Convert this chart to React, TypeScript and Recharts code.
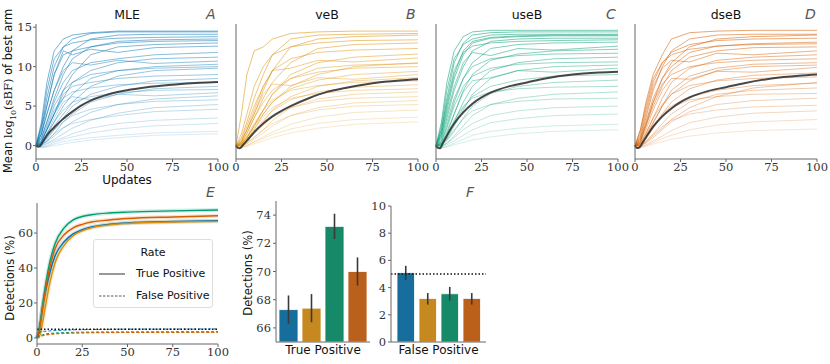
import React from 'react';
import { LineChart, Line, XAxis, YAxis, BarChart, Bar, ErrorBar, ReferenceLine } from 'recharts';

// methods + colours (seaborn colorblind)
const METHODS = ['MLE', 'veB', 'useB', 'dseB'];
const PANEL_LETTERS = ['A', 'B', 'C', 'D'];
const LINE_COLORS = ['#0173b2', '#de8f05', '#029e73', '#d55e00'];
const BAR_COLORS = ['#176d9b', '#c58920', '#158968', '#bb601b'];

// ---- panels A-D: per-run trajectories of mean log10(sBF) ----
const traceUpdates = [0, 3, 6, 10, 15, 20, 30, 45, 65, 100];

const mleTraces = [
  [0, 3, 8, 12, 13.5, 14, 14.3, 14.5, 14.5, 14.5],
  [0, 2, 6, 10, 12.5, 13.5, 14.2, 14.4, 14.4, 14.4],
  [0, 1.5, 4, 7, 10, 12, 13.5, 14, 14.1, 14.1],
  [0, 2.5, 7, 11, 12.5, 13, 13.4, 13.6, 13.7, 13.8],
  [0, 1, 3, 6, 9, 11, 12.5, 13.2, 13.4, 13.5],
  [0, 1.5, 5, 9, 11.5, 12, 12.5, 13, 13.2, 13.3],
  [0, 0.5, 2, 4, 7, 9, 11.5, 12.5, 12.8, 13],
  [0, 2.5, 5, 9, 12, 11.5, 12.2, 11.8, 12.4, 12.6],
  [0, 1, 3, 5.5, 8, 9.5, 10.5, 11, 11.5, 11.8],
  [0, 0.5, 2, 4, 6, 8, 9.5, 10.5, 11, 11.2],
  [0, 1.5, 4, 7, 9.5, 10.5, 10.2, 10.8, 10.4, 10.7],
  [0, 0.3, 1.5, 3, 5, 6.5, 8.5, 9.5, 10, 10.3],
  [0, 0.8, 2.5, 5, 7, 8, 9, 9.5, 9.8, 10],
  [0, 0.2, 1, 2.5, 4, 5.5, 7.5, 8.8, 9.5, 9.8],
  [0, 0.5, 2, 4, 6.5, 7.5, 8, 8.5, 8.8, 9],
  [0, 0.2, 1, 2, 3.5, 5, 6.5, 7.5, 8.2, 8.5],
  [0, 0.6, 2.2, 4.5, 6, 6.8, 7.3, 7.7, 7.9, 8],
  [0, 0.1, 0.6, 1.5, 3, 4, 5.5, 6.5, 7.2, 7.5],
  [0, 0.3, 1.2, 3, 4.5, 5.5, 6.2, 6.7, 7, 7.1],
  [0, 0.3, 1.5, 3.5, 5.5, 6.2, 5.8, 6.5, 6.3, 6.7],
  [0, 0.1, 0.5, 1.2, 2.2, 3, 4.2, 5.2, 5.9, 6.3],
  [0, 0.2, 0.8, 2, 3, 3.8, 4.6, 5.2, 5.6, 5.8],
  [0, 0, 0.3, 0.8, 1.5, 2.2, 3.2, 4.1, 4.8, 5.2],
  [0, 0.1, 0.6, 1.5, 2.3, 2.8, 3.3, 3.8, 4.3, 4.6],
  [0, -0.1, 0.2, 0.6, 1, 1.5, 2.2, 2.8, 3.2, 3.5],
  [0, -0.2, 0, 0.4, 0.8, 1.1, 1.6, 2.1, 2.5, 2.8],
  [0, -0.2, -0.1, 0.2, 0.5, 0.7, 1, 1.3, 1.6, 1.8],
  [0, -0.3, -0.2, 0, 0.2, 0.4, 0.7, 1, 1.3, 1.5],
];

const vebTraces = [
  [0, 4, 9, 12, 12.5, 13.5, 14.2, 14.4, 14.5, 14.5],
  [0, 1, 3, 6, 9, 11.5, 13.5, 14, 14.1, 14.2],
  [0, 0.5, 2, 4, 7, 9.5, 12.5, 13.5, 13.8, 14],
  [0, 1.5, 4, 7.5, 10, 11.5, 12.5, 13, 13.3, 13.4],
  [0, 0.3, 1.5, 3.5, 6, 8, 10.5, 12.3, 12.8, 13],
  [0, 0.8, 2.5, 5, 7.5, 9.5, 11, 11.8, 12.1, 12.3],
  [0, 0.2, 1, 2.5, 4.5, 6.5, 9, 10.5, 11.2, 11.6],
  [0, 0.5, 2, 4.5, 7.5, 9.5, 9.8, 10.8, 10.6, 11.1],
  [0, 0.1, 0.8, 2, 4, 5.5, 7.5, 9, 10, 10.5],
  [0, 0.2, 1, 2.5, 4.5, 6.5, 8.5, 9.8, 10.2, 10.4],
  [0, 0.4, 1.6, 3.5, 5.5, 7, 8.5, 9.3, 9.8, 10],
  [0, 0.2, 1, 2.5, 4, 5.5, 7.2, 8.3, 9, 9.4],
  [0, 0.6, 2, 4, 6.5, 7.8, 7.6, 8.6, 8.4, 9],
  [0, 0, 0.5, 1.5, 3, 4.5, 6.2, 7.5, 8.2, 8.6],
  [0, 0.3, 1.2, 2.8, 4.5, 5.8, 7, 7.6, 8, 8.2],
  [0, 0.1, 0.7, 1.8, 3.2, 4.4, 5.8, 6.8, 7.4, 7.7],
  [0, 0.2, 1, 2.2, 3.6, 4.8, 6, 6.6, 7, 7.2],
  [0, -0.1, 0.3, 1, 2, 3.2, 4.8, 5.9, 6.5, 6.8],
  [0, 0.1, 0.6, 1.5, 2.6, 3.6, 4.8, 5.6, 6, 6.2],
  [0, -0.1, 0.2, 0.8, 1.6, 2.5, 3.8, 4.8, 5.4, 5.7],
  [0, 0, 0.4, 1.1, 2, 2.8, 3.8, 4.5, 5, 5.2],
  [0, -0.2, 0, 0.5, 1.1, 1.7, 2.7, 3.6, 4.2, 4.5],
  [0, -0.2, 0, 0.4, 0.9, 1.4, 2.1, 2.8, 3.3, 3.6],
  [0, -0.3, -0.1, 0.2, 0.6, 1, 1.6, 2.2, 2.7, 3],
];

const usebTraces = [
  [0, 3, 8, 12, 13.8, 14.4, 14.6, 14.6, 14.6, 14.6],
  [0, 2, 6, 10.5, 13, 14, 14.3, 14.4, 14.4, 14.4],
  [0, 2.5, 7, 11, 12.8, 13.5, 14, 14.1, 14.1, 14.1],
  [0, 1.5, 5, 9, 12, 13.2, 13.7, 13.9, 14, 14],
  [0, 1.5, 4.5, 8.5, 11.5, 13, 13.6, 13.8, 13.9, 13.9],
  [0, 1, 3.5, 7, 10, 12, 13.2, 13.5, 13.6, 13.6],
  [0, 2, 5.5, 9.5, 11.8, 12.6, 13, 13.2, 13.3, 13.4],
  [0, 0.5, 2.5, 5.5, 8.5, 10.5, 12.3, 12.8, 13, 13.1],
  [0, 1.2, 4, 7.5, 10.5, 11.8, 11.4, 12.3, 12.1, 12.6],
  [0, 0.3, 1.5, 4, 7, 9, 10.8, 11.6, 12, 12.2],
  [0, 0.8, 3, 6, 8.5, 10, 11, 11.4, 11.6, 11.7],
  [0, 0.2, 1.2, 3, 5.5, 7.5, 9.5, 10.5, 11, 11.2],
  [0, 0.6, 2.2, 5, 7.5, 8.8, 9.8, 10.3, 10.5, 10.6],
  [0, 0.1, 0.8, 2.5, 4.5, 6.5, 8.5, 9.5, 10, 10.2],
  [0, 0.4, 1.8, 4, 6.8, 8.2, 8.6, 9.5, 9.3, 9.8],
  [0, 0.2, 1, 2.8, 4.8, 6.2, 7.5, 8.3, 8.8, 9],
  [0, 0, 0.6, 1.8, 3.5, 5, 6.6, 7.5, 8, 8.3],
  [0, 0.3, 1.4, 3.2, 5, 6, 6.8, 7.2, 7.4, 7.5],
  [0, -0.1, 0.3, 1.2, 2.5, 3.8, 5.2, 6, 6.5, 6.8],
  [0, 0.1, 0.8, 2, 3.4, 4.4, 5.2, 5.6, 5.9, 6],
  [0, -0.1, 0.3, 1, 2, 2.8, 3.8, 4.4, 4.8, 5],
  [0, -0.2, 0.1, 0.6, 1.3, 2, 2.9, 3.4, 3.8, 4],
  [0, -0.3, -0.1, 0.3, 0.8, 1.3, 1.8, 2.2, 2.5, 2.7],
  [0, -0.3, -0.2, 0.1, 0.4, 0.7, 1.1, 1.5, 1.8, 2],
];

const dsebTraces = [
  [0, 2, 5.5, 9, 11.5, 13.5, 14.3, 14.5, 14.6, 14.6],
  [0, 1, 3.5, 7, 10, 12, 13.5, 14, 14.1, 14.1],
  [0, 0.5, 2.5, 5.5, 8.5, 10.5, 12.5, 13.5, 13.8, 14],
  [0, 1.5, 4.5, 8, 10.5, 11.8, 12.8, 13.3, 13.5, 13.6],
  [0, 0.8, 3, 6, 8.5, 10, 11.8, 12.6, 12.9, 13.1],
  [0, 2, 5, 8.5, 10.5, 11.5, 12.2, 12.6, 12.8, 12.9],
  [0, 0.5, 2.5, 5, 7.5, 9.5, 11.2, 12, 12.4, 12.5],
  [0, 1.2, 4, 7.5, 9.8, 10.8, 10.6, 11.7, 11.5, 12],
  [0, 0.3, 1.5, 3.5, 6, 8, 9.8, 10.8, 11.2, 11.5],
  [0, 0.8, 2.8, 5.5, 7.8, 9, 10, 10.5, 10.8, 11],
  [0, 0.2, 1, 2.8, 5, 7, 8.8, 9.8, 10.3, 10.5],
  [0, 0.3, 1.3, 3, 5, 6.5, 8.2, 9.5, 10, 10.2],
  [0, 0.6, 2, 4.5, 7, 8.5, 8.4, 9.4, 9.3, 9.9],
  [0, 0.1, 0.8, 2.2, 4, 5.5, 7.2, 8.3, 8.9, 9.2],
  [0, 0.4, 1.6, 3.5, 5.2, 6.5, 7.6, 8.2, 8.5, 8.7],
  [0, -0.1, 0.4, 1.2, 2.2, 3.3, 4.8, 6.2, 7.3, 8],
  [0, 0.2, 1, 2.5, 4, 5, 6.2, 7, 7.6, 7.9],
  [0, 0, 0.5, 1.5, 2.8, 4, 5.5, 6.5, 7, 7.3],
  [0, 0.2, 1, 2.4, 3.8, 4.8, 5.8, 6.2, 6.5, 6.6],
  [0, -0.1, 0.3, 1, 2, 3, 4.3, 5.2, 5.7, 6],
  [0, 0, 0.5, 1.4, 2.4, 3.2, 4, 4.5, 4.9, 5.1],
  [0, -0.2, 0.1, 0.6, 1.2, 1.9, 2.9, 3.6, 4.1, 4.4],
  [0, -0.2, 0, 0.4, 0.9, 1.3, 2, 2.6, 3, 3.3],
  [0, -0.3, -0.1, 0.2, 0.5, 0.8, 1.2, 1.6, 1.9, 2.1],
];

// mean curve over all runs
const meanUpdates = [0, 1, 2, 4, 7, 10, 15, 20, 25, 30, 40, 50, 60, 75, 90, 100];
const mleMean = [0, -0.15, -0.1, 0.6, 1.6, 2.3, 3.4, 4.3, 5.1, 5.7, 6.5, 7.0, 7.35, 7.7, 7.95, 8.05];
const vebMean = [0, -0.3, -0.35, 0.1, 0.9, 1.7, 2.8, 3.7, 4.4, 5.0, 6.0, 6.8, 7.3, 7.9, 8.25, 8.4];
const usebMean = [0, -0.3, -0.35, 0.4, 1.7, 2.8, 4.2, 5.3, 6.1, 6.7, 7.5, 8.0, 8.5, 9.0, 9.25, 9.35];
const dsebMean = [0, -0.3, -0.3, 0.3, 1.4, 2.4, 3.7, 4.7, 5.5, 6.1, 6.9, 7.4, 7.9, 8.5, 8.85, 9.0];

const traceTicksY = [0, 5, 10, 15];
const updateTicks = [0, 25, 50, 75, 100];

// ---- panel E: detection rate over updates ----
const detUpdates = [0, 1, 2, 3, 5, 7, 10, 15, 20, 25, 30, 40, 50, 75, 100];
const tpMle = [0, 4, 10, 17, 28, 37, 47, 55, 59.5, 62, 63.5, 65, 65.8, 66.6, 67.1];
const tpVeb = [0, 0.5, 3, 8, 20, 31, 43, 53, 58.5, 61.3, 63, 64.7, 65.5, 66.3, 66.7];
const tpUseb = [0, 3, 10, 18, 32, 43, 54, 63, 67.5, 69.5, 70.5, 71.5, 72, 72.7, 73.2];
const tpDseb = [0, 3, 9, 16, 29, 40, 51, 59, 63, 65, 66.3, 67.5, 68.3, 69.2, 69.9];
const fpMle = [0, 2, 3.5, 3.7, 3.8, 4.0, 4.2, 4.4, 4.6, 4.7, 4.8, 4.9, 5.0, 5.05, 5.1];
const fpVeb = [0, 0.3, 0.8, 1.1, 1.6, 1.9, 2.2, 2.5, 2.7, 2.8, 2.9, 3.0, 3.1, 3.15, 3.2];
const fpUseb = [0, 0.7, 1.5, 1.8, 2.3, 2.6, 2.8, 3.0, 3.2, 3.3, 3.35, 3.4, 3.45, 3.5, 3.55];
const fpDseb = [0, 0.4, 1.0, 1.3, 1.8, 2.1, 2.4, 2.6, 2.8, 2.9, 3.0, 3.05, 3.1, 3.15, 3.2];
const detTicksY = [0, 20, 40, 60];
const nominalFpRate = 5;

// ---- panel F: final detection rates ----
const tpFinal = [67.3, 67.4, 73.2, 70.0];
const tpLow = [66.3, 66.4, 72.3, 69.0];
const tpHigh = [68.3, 68.4, 74.1, 71.0];
const fpFinal = [5.1, 3.2, 3.55, 3.2];
const fpLow = [4.55, 2.75, 3.05, 2.75];
const fpHigh = [5.6, 3.6, 4.05, 3.6];
const tpTicks = [66, 68, 70, 72, 74];
const fpTicks = [0, 2, 4, 6, 8, 10];

const SANS = 'DejaVu Sans, sans-serif';
const SERIF = 'DejaVu Serif, serif';
const SPINE = '#666';
const tickStyle = { fontFamily: SERIF, fontSize: 11.5, fill: '#333' };

const allTraces = [mleTraces, vebTraces, usebTraces, dsebTraces];
const allMeans = [mleMean, vebMean, usebMean, dsebMean];

function TracePanel({ idx }: { idx: number }) {
  const first = idx === 0;
  const lefts = [0, 226, 426, 625];
  const width = first ? 230 : 204;
  const yW = first ? 36 : 10;
  const color = LINE_COLORS[idx];
  const traces = [...allTraces[idx]].sort((a, b) => a[a.length - 1] - b[b.length - 1]);
  const meanPts = meanUpdates.map((x, i) => ({ x, y: allMeans[idx][i] }));
  const plotL = lefts[idx] + yW;
  const plotR = lefts[idx] + width - 12;
  return (
    <>
      <div style={{ position: 'absolute', left: lefts[idx], top: 0, width, height: 185 }}>
        <LineChart width={width} height={185} margin={{ top: 24, right: 12, bottom: 0, left: 0 }}>
          <XAxis type="number" dataKey="x" domain={[0, 100]} ticks={updateTicks} height={26}
            tick={tickStyle} tickSize={3} tickMargin={1} stroke={SPINE} interval={0} />
          <XAxis xAxisId="top" orientation="top" type="number" domain={[0, 100]} height={0}
            tick={false} tickLine={false} stroke={SPINE} />
          <YAxis type="number" domain={[-1.7, 15.4]} ticks={traceTicksY} width={yW}
            tick={first ? tickStyle : false} tickSize={3} tickMargin={1} stroke={SPINE} allowDataOverflow />
          <YAxis yAxisId="right" orientation="right" type="number" domain={[-1.7, 15.4]} width={0}
            tick={false} tickLine={false} stroke={SPINE} />
          {traces.map((t, k) => (
            <Line key={k} data={traceUpdates.map((x, i) => ({ x, y: t[i] }))} dataKey="y" type="linear"
              stroke={color} strokeOpacity={0.12 + 0.5 * (t[t.length - 1] / 15)} strokeWidth={0.9}
              dot={false} activeDot={false} isAnimationActive={false} />
          ))}
          <Line data={meanPts} dataKey="y" type="monotone" stroke="#333" strokeOpacity={0.9} strokeWidth={2}
            dot={false} activeDot={false} isAnimationActive={false} />
        </LineChart>
      </div>
      <div style={{ position: 'absolute', left: plotL, width: plotR - plotL, top: 8, textAlign: 'center',
        fontFamily: SANS, fontSize: 12.5, color: '#111', lineHeight: '14px' }}>{METHODS[idx]}</div>
      <div style={{ position: 'absolute', left: plotR - 12, top: 6, fontFamily: SANS, fontStyle: 'italic',
        fontSize: 14, color: '#555', lineHeight: '16px' }}>{PANEL_LETTERS[idx]}</div>
    </>
  );
}

function RotLabel({ cx, cy, children }: { cx: number; cy: number; children: React.ReactNode }) {
  return (
    <div style={{ position: 'absolute', left: cx, top: cy, transform: 'translate(-50%, -50%) rotate(-90deg)',
      whiteSpace: 'nowrap', fontFamily: SANS, fontSize: 11.5, color: '#111', lineHeight: '14px' }}>{children}</div>
  );
}

function DetectionPanel() {
  const rows = detUpdates.map((x, i) => ({
    x,
    tp0: tpMle[i], tp1: tpVeb[i], tp2: tpUseb[i], tp3: tpDseb[i],
    fp0: fpMle[i], fp1: fpVeb[i], fp2: fpUseb[i], fp3: fpDseb[i],
  }));
  return (
    <div style={{ position: 'absolute', left: 0, top: 185, width: 230, height: 179 }}>
      <LineChart width={230} height={179} data={rows} margin={{ top: 18, right: 12, bottom: 0, left: 0 }}>
        <XAxis type="number" dataKey="x" domain={[0, 100]} ticks={updateTicks} height={20}
          tick={tickStyle} tickSize={3} tickMargin={1} stroke={SPINE} interval={0} />
        <XAxis xAxisId="top" orientation="top" type="number" domain={[0, 100]} height={0}
          tick={false} tickLine={false} stroke={SPINE} />
        <YAxis type="number" domain={[-3.5, 77.2]} ticks={detTicksY} width={37}
          tick={tickStyle} tickSize={3} tickMargin={1} stroke={SPINE} allowDataOverflow />
        <YAxis yAxisId="right" orientation="right" type="number" domain={[-3.5, 77.2]} width={0}
          tick={false} tickLine={false} stroke={SPINE} />
        {[0, 1, 2, 3].map((i) => (
          <Line key={'b' + i} dataKey={'tp' + i} type="monotone" stroke={LINE_COLORS[i]} strokeOpacity={0.18}
            strokeWidth={4} dot={false} activeDot={false} isAnimationActive={false} />
        ))}
        {[0, 1, 2, 3].map((i) => (
          <Line key={'t' + i} dataKey={'tp' + i} type="monotone" stroke={LINE_COLORS[i]} strokeWidth={1.4}
            dot={false} activeDot={false} isAnimationActive={false} />
        ))}
        {[0, 1, 2, 3].map((i) => (
          <Line key={'f' + i} dataKey={'fp' + i} type="monotone" stroke={LINE_COLORS[i]} strokeWidth={1}
            strokeDasharray="3 2" dot={false} activeDot={false} isAnimationActive={false} />
        ))}
        <ReferenceLine y={nominalFpRate} stroke="#111" strokeWidth={1.5} strokeDasharray="1.5 2" />
      </LineChart>
    </div>
  );
}

function RateBars({ kind }: { kind: 'tp' | 'fp' }) {
  const isTp = kind === 'tp';
  const vals = isTp ? tpFinal : fpFinal;
  const lo = isTp ? tpLow : fpLow;
  const hi = isTp ? tpHigh : fpHigh;
  const row: Record<string, any> = { name: isTp ? 'True Positive' : 'False Positive' };
  METHODS.forEach((m, i) => {
    row[m] = vals[i];
    row[m + 'Err'] = [vals[i] - lo[i], hi[i] - vals[i]];
  });
  const left = isTp ? 220 : 370;
  const width = isTp ? 160 : 130;
  return (
    <div style={{ position: 'absolute', left, top: 185, width, height: 179 }}>
      <BarChart width={width} height={179} data={[row]} barGap={isTp ? 4 : 4.5}
        margin={{ top: isTp ? 16 : 21, right: isTp ? 10 : 14, bottom: 0, left: 0 }}>
        <XAxis dataKey="name" type="category" height={22} tickLine={false} tickSize={0} tickMargin={3}
          tick={{ fontFamily: SANS, fontSize: 12, fill: '#111' }} stroke={SPINE} />
        <YAxis type="number" domain={isTp ? [65, 75] : [0, 10]} ticks={isTp ? tpTicks : fpTicks}
          width={isTp ? 56 : 21} tick={tickStyle} tickSize={3} tickMargin={2} stroke={SPINE} allowDataOverflow />
        {METHODS.map((m, i) => (
          <Bar key={m} dataKey={m} fill={BAR_COLORS[i]} stroke="#fff" strokeWidth={0.8}
            barSize={isTp ? 19 : 17.5} isAnimationActive={false}>
            <ErrorBar dataKey={m + 'Err'} width={0} stroke="#3a3a3a" strokeWidth={1.6} direction="y" />
          </Bar>
        ))}
        {!isTp && <ReferenceLine y={nominalFpRate} stroke="#111" strokeWidth={1.5} strokeDasharray="1.5 2" />}
      </BarChart>
    </div>
  );
}

function LegendBox() {
  const row = (dash: string | undefined, label: string, top: number) => (
    <div style={{ position: 'absolute', left: 4, top, display: 'flex', alignItems: 'center' }}>
      <svg width={28} height={6}>
        <line x1={1} y1={3} x2={27} y2={3} stroke="#444" strokeWidth={dash ? 0.9 : 1.1} strokeDasharray={dash} />
      </svg>
      <span style={{ marginLeft: 10 }}>{label}</span>
    </div>
  );
  return (
    <div style={{ position: 'absolute', left: 93, top: 239, width: 118, height: 67, border: '1px solid #ddd',
      borderRadius: 3, background: 'rgba(255,255,255,0.85)', fontFamily: SANS, fontSize: 11, color: '#111',
      lineHeight: '13px' }}>
      <div style={{ position: 'absolute', left: 0, right: 0, top: 6, textAlign: 'center' }}>Rate</div>
      {row(undefined, 'True Positive', 27)}
      {row('2.5 1.5', 'False Positive', 49)}
    </div>
  );
}

export default function App() {
  return (
    <div style={{ position: 'absolute', left: 0, top: 0, width: 830, height: 364, background: '#fff', overflow: 'hidden' }}>
      {[0, 1, 2, 3].map((i) => <TracePanel key={i} idx={i} />)}
      <div style={{ position: 'absolute', left: 36, width: 182, top: 173, textAlign: 'center', fontFamily: SANS,
        fontSize: 12, color: '#111', lineHeight: '14px' }}>Updates</div>
      <RotLabel cx={11} cy={91}>
        Mean <span style={{ fontFamily: SERIF }}>log</span><sub style={{ fontFamily: SERIF, fontSize: 8 }}>10</sub>
        <span style={{ fontFamily: SERIF }}>(sBF)</span> of best arm
      </RotLabel>
      <DetectionPanel />
      <LegendBox />
      <RateBars kind="tp" />
      <RateBars kind="fp" />
      <RotLabel cx={10} cy={278}>Detections (%)</RotLabel>
      <RotLabel cx={248} cy={273}>Detections (%)</RotLabel>
      <div style={{ position: 'absolute', left: 206, top: 184, fontFamily: SANS, fontStyle: 'italic', fontSize: 14,
        color: '#555', lineHeight: '16px' }}>E</div>
      <div style={{ position: 'absolute', left: 466, top: 184, fontFamily: SANS, fontStyle: 'italic', fontSize: 14,
        color: '#555', lineHeight: '16px' }}>F</div>
    </div>
  );
}
